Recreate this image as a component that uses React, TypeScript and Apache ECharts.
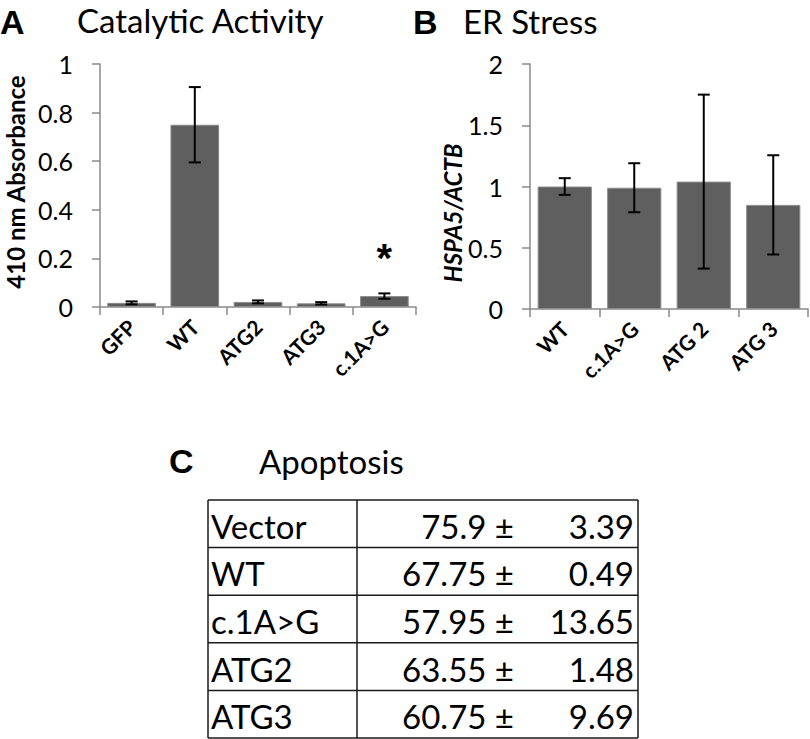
import React, { useEffect, useRef } from "react";
import * as echarts from "echarts";

// Panel A: Catalytic Activity
const catA = ["GFP", "WT", "ATG2", "ATG3", "c.1A>G"];
const meanA = [0.017, 0.75, 0.021, 0.015, 0.045];
const errA = [0.006, 0.155, 0.006, 0.005, 0.011];
const sigA = ["", "", "", "", "*"];

// Panel B: ER Stress
const catB = ["WT", "c.1A>G", "ATG 2", "ATG 3"];
const meanB = [1.0, 0.99, 1.04, 0.85];
const errB = [0.068, 0.2, 0.71, 0.405];

// Panel C: Apoptosis table
const tableGroups = ["Vector", "WT", "c.1A>G", "ATG2", "ATG3"];
const tableMeans = ["75.9", "67.75", "57.95", "63.55", "60.75"];
const tableSDs = ["3.39", "0.49", "13.65", "1.48", "9.69"];

const FONT = "Lato";
const LETTER_FONT = "Liberation Sans";
const BAR = "#5f5f5f";
const AXIS = "#8a8a8a";

function errorSeries(xIndex: number, means: number[], errs: number[], sig: string[]) {
  const data = means.map((m, i) => [i, m - errs[i], m + errs[i], sig[i] || ""]);
  return {
    type: "custom",
    xAxisIndex: xIndex,
    yAxisIndex: xIndex,
    data,
    z: 5,
    renderItem: (params: any, api: any) => {
      const i = api.value(0);
      const lo = api.coord([i, api.value(1)]);
      const hi = api.coord([i, api.value(2)]);
      const w = 6;
      const style = { stroke: "#000", lineWidth: 2 };
      const children: any[] = [
        { type: "line", shape: { x1: lo[0], y1: lo[1], x2: hi[0], y2: hi[1] }, style },
        { type: "line", shape: { x1: lo[0] - w, y1: lo[1], x2: lo[0] + w, y2: lo[1] }, style },
        { type: "line", shape: { x1: hi[0] - w, y1: hi[1], x2: hi[0] + w, y2: hi[1] }, style },
      ];
      const s = data[params.dataIndex][3] as string;
      if (s) {
        children.push({
          type: "text",
          x: hi[0],
          y: hi[1] - 15,
          style: {
            text: s,
            fill: "#000",
            font: `bold 40px "${LETTER_FONT}"`,
            textAlign: "center",
            textVerticalAlign: "bottom",
          },
        });
      }
      return { type: "group", children };
    },
  };
}

function buildTable() {
  const left = 208;
  const mid = 357;
  const right = 638;
  const top = 500;
  const rowH = 47.6;
  const els: any[] = [];
  const n = tableGroups.length;
  const lineStyle = { stroke: "#1a1a1a", lineWidth: 1.5 };
  for (let r = 0; r <= n; r++) {
    const y = top + r * rowH;
    els.push({ type: "line", shape: { x1: left, y1: y, x2: right, y2: y }, style: lineStyle });
  }
  [left, mid, right].forEach((x) => {
    els.push({ type: "line", shape: { x1: x, y1: top, x2: x, y2: top + n * rowH }, style: lineStyle });
  });
  const tf = `33px "${FONT}"`;
  for (let r = 0; r < n; r++) {
    const cy = top + r * rowH + rowH / 2 + 2;
    els.push({
      type: "text",
      x: left + 3,
      y: cy,
      style: { text: tableGroups[r], font: tf, fill: "#000", textAlign: "left", textVerticalAlign: "middle" },
    });
    els.push({
      type: "text",
      x: 514,
      y: cy,
      style: { text: tableMeans[r] + " ±", font: tf, fill: "#000", textAlign: "right", textVerticalAlign: "middle" },
    });
    els.push({
      type: "text",
      x: 634,
      y: cy,
      style: { text: tableSDs[r], font: tf, fill: "#000", textAlign: "right", textVerticalAlign: "middle" },
    });
  }
  return els;
}

export default function App() {
  const ref = useRef<HTMLDivElement>(null);
  useEffect(() => {
    document.body.style.margin = "0";
    const chart = echarts.init(ref.current!, null, { renderer: "svg" });
    const yAxisCommon = {
      type: "value",
      min: 0,
      axisLine: { show: true, lineStyle: { color: AXIS, width: 1.5 } },
      axisTick: { show: true, length: 8, lineStyle: { color: AXIS, width: 1.5 } },
      splitLine: { show: false },
      axisLabel: { color: "#000", fontSize: 25, fontFamily: FONT, margin: 27 },
    };
    const xAxisCommon = {
      type: "category",
      axisLine: { show: true, lineStyle: { color: AXIS, width: 1.5 } },
      axisTick: { show: true, length: 8, lineStyle: { color: AXIS, width: 1.5 } },
      axisLabel: { color: "#000", fontSize: 21, fontWeight: "bold", fontFamily: FONT, rotate: 45, margin: 16, interval: 0 },
    };
    const option: any = {
      animation: false,
      backgroundColor: "#fff",
      grid: [
        { left: 100, top: 64, width: 316, height: 243 },
        { left: 530, top: 64, width: 278, height: 245 },
      ],
      xAxis: [
        { ...xAxisCommon, gridIndex: 0, data: catA },
        { ...xAxisCommon, gridIndex: 1, data: catB },
      ],
      yAxis: [
        { ...yAxisCommon, gridIndex: 0, max: 1, interval: 0.2 },
        { ...yAxisCommon, gridIndex: 1, max: 2, interval: 0.5 },
      ],
      series: [
        {
          type: "bar",
          xAxisIndex: 0,
          yAxisIndex: 0,
          data: meanA,
          barCategoryGap: "23%",
          itemStyle: { color: BAR, borderColor: "#8c8c8c", borderWidth: 1 },
        },
        errorSeries(0, meanA, errA, sigA),
        {
          type: "bar",
          xAxisIndex: 1,
          yAxisIndex: 1,
          data: meanB,
          barCategoryGap: "22%",
          itemStyle: { color: BAR, borderColor: "#8c8c8c", borderWidth: 1 },
        },
        errorSeries(1, meanB, errB, ["", "", "", ""]),
      ],
      graphic: [
        { type: "text", x: 0, y: 22, style: { text: "A", font: `bold 34px "${LETTER_FONT}"`, fill: "#000", textVerticalAlign: "middle" } },
        { type: "text", x: 77, y: 20, style: { text: "Catalytic Activity", font: `33px "${FONT}"`, fill: "#000", textVerticalAlign: "middle" } },
        { type: "text", x: 413, y: 22, style: { text: "B", font: `bold 34px "${LETTER_FONT}"`, fill: "#000", textVerticalAlign: "middle" } },
        { type: "text", x: 463, y: 21, style: { text: "ER Stress", font: `33px "${FONT}"`, fill: "#000", textVerticalAlign: "middle" } },
        { type: "text", x: 169, y: 461, style: { text: "C", font: `bold 34px "${LETTER_FONT}"`, fill: "#000", textVerticalAlign: "middle" } },
        { type: "text", x: 259, y: 461, style: { text: "Apoptosis", font: `33px "${FONT}"`, fill: "#000", textVerticalAlign: "middle" } },
        {
          type: "text",
          x: 15,
          y: 182,
          rotation: Math.PI / 2,
          style: { text: "410 nm Absorbance", font: `bold 24px "${FONT}"`, fill: "#000", textAlign: "center", textVerticalAlign: "middle" },
        },
        {
          type: "text",
          x: 452,
          y: 213,
          rotation: Math.PI / 2,
          style: { text: "HSPA5/ACTB", font: `italic bold 24px "${FONT}"`, fill: "#000", textAlign: "center", textVerticalAlign: "middle" },
        },
        ...buildTable(),
      ],
    };
    chart.setOption(option);
    return () => chart.dispose();
  }, []);
  return <div ref={ref} style={{ position: "fixed", left: 0, top: 0, width: 810, height: 739 }} />;
}
